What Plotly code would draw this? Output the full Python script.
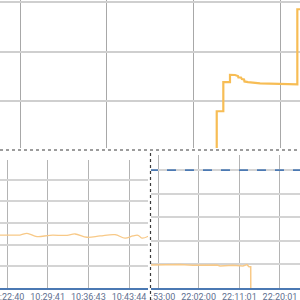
import plotly.graph_objects as go

# ---------------- data ----------------
# top panel (numeric x, step-like series)
top_x = [2.270, 2.270, 2.346, 2.346, 2.423, 2.423, 2.481, 2.515, 2.520, 2.550, 2.560, 2.585, 2.590, 2.631, 2.770, 3.000, 3.200, 3.200, 3.300]
top_y = [-2.0, 8.0, 8.0, 13.86, 13.86, 15.34, 15.30, 15.10, 14.80, 14.80, 14.50, 14.40, 14.00, 13.86, 13.60, 13.54, 13.40, 28.54, 28.54]

# bottom-left panel
bl_t = ["10:21:20", "10:23:11", "10:24:55", "10:26:07", "10:27:51", "10:30:05", "10:33:02", "10:34:25",
        "10:36:29", "10:38:44", "10:41:19", "10:43:03", "10:44:25", "10:45:17", "10:45:59", "10:47:10"]
bl_v = [2.44, 2.44, 2.44, 2.52, 2.37, 2.43, 2.43, 2.49, 2.34, 2.40, 2.46, 2.30, 2.40, 2.43, 2.30, 2.40]
bl_ticks = ["10:22:40", "10:29:41", "10:36:43", "10:43:44"]

# bottom-right panel
br_t = ["21:51:20", "21:55:39", "21:57:52", "22:00:45", "22:03:51", "22:06:04", "22:06:44", "22:09:36",
        "22:11:49", "22:12:43", "22:13:09", "22:13:32", "22:13:33"]
br_v = [0.975, 0.975, 1.0, 0.96, 0.975, 0.975, 0.93, 0.96, 0.93, 0.99, 0.90, 0.90, 0.0]
br_limit_t = ["21:51:00", "22:25:00"]
br_limit_v = [5, 5]
br_ticks = ["21:53:00", "22:02:00", "22:11:01", "22:20:01"]
br_ticktext = ["\u2007\u2007:53:00", "22:02:00", "22:11:01", "22:20:01"]

DAY = "2024-01-01 "
def d(ts):
    return [DAY + t for t in ts]

ORANGE = "#f7bd55"
ORANGE_LIGHT = "#f8c987"
BLUE = "#4b79b3"
TICKFONT = dict(family="Roboto, sans-serif", size=9, color="#5f7090")

fig = go.Figure()
fig.add_trace(go.Scatter(x=top_x, y=top_y, mode="lines", line=dict(color=ORANGE, width=2.2),
                         xaxis="x", yaxis="y", showlegend=False, hoverinfo="skip"))
fig.add_trace(go.Scatter(x=d(bl_t), y=bl_v, mode="lines", line=dict(color=ORANGE_LIGHT, width=1.3, shape="spline"),
                         xaxis="x2", yaxis="y2", showlegend=False, hoverinfo="skip"))
fig.add_trace(go.Scatter(x=d(br_limit_t), y=br_limit_v, mode="lines", line=dict(color=BLUE, width=1.6, dash="dash"),
                         xaxis="x3", yaxis="y3", showlegend=False, hoverinfo="skip"))
fig.add_trace(go.Scatter(x=d(br_t), y=br_v, mode="lines", line=dict(color=ORANGE_LIGHT, width=1.5),
                         xaxis="x3", yaxis="y3", showlegend=False, hoverinfo="skip"))

GRIDV = "#b4b4b4"
GRIDH = "#d4d4d4"

fig.update_layout(
    width=300, height=300,
    margin=dict(l=0, r=0, t=0, b=0),
    paper_bgcolor="white", plot_bgcolor="white",
    showlegend=False,
    xaxis=dict(domain=[0, 1], anchor="y", range=[-0.2308, 3.2308], tick0=0, dtick=1,
               showticklabels=False, showgrid=True, gridcolor="#a8a8a8", gridwidth=1,
               zeroline=False, showline=False, ticks=""),
    yaxis=dict(domain=[1 - 148 / 300, 1], anchor="x", range=[0.6, 30.4], tick0=0, dtick=10,
               showticklabels=False, showgrid=True, gridcolor="#cfcfcf", gridwidth=2,
               zeroline=False, showline=False, ticks=""),
    xaxis2=dict(domain=[0, 148 / 300], anchor="y2", type="date",
                range=[DAY + "10:21:27.5", DAY + "10:47:00.8"],
                tickmode="array", tickvals=d(bl_ticks), tickformat="%H:%M:%S",
                tickfont=TICKFONT, tickangle=0, showgrid=True, gridcolor=GRIDV, gridwidth=1,
                showline=True, linecolor=BLUE, linewidth=2, zeroline=False, ticks="",
                ticklabelstandoff=-1, ticklabeloverflow="allow", automargin=False),
    yaxis2=dict(domain=[12 / 300, 140 / 300], anchor="x2", range=[0, 5.9], dtick=1,
                showticklabels=False, showgrid=True, gridcolor=GRIDH, gridwidth=1.5,
                zeroline=False, showline=False, ticks=""),
    xaxis3=dict(domain=[151 / 300, 1], anchor="y3", type="date",
                range=[DAY + "21:51:27", DAY + "22:24:27"],
                tickmode="array", tickvals=d(br_ticks), ticktext=br_ticktext,
                tickfont=TICKFONT, tickangle=0, showgrid=True, gridcolor=GRIDV, gridwidth=1,
                showline=True, linecolor=BLUE, linewidth=2, zeroline=False, ticks="",
                ticklabelstandoff=-1, ticklabeloverflow="allow", automargin=False),
    yaxis3=dict(domain=[12 / 300, 145 / 300], anchor="x3", range=[0, 5.64], dtick=1,
                showticklabels=False, showgrid=True, gridcolor=GRIDH, gridwidth=1.5,
                zeroline=False, showline=False, ticks=""),
    shapes=[
        dict(type="line", xref="paper", yref="paper", x0=0, x1=1, y0=150 / 300, y1=150 / 300,
             line=dict(color="#3a3a3a", width=1.2, dash="dot"), layer="above"),
        dict(type="line", xref="paper", yref="paper", x0=150.5 / 300, x1=150.5 / 300, y0=0, y1=150 / 300,
             line=dict(color="#3a3a3a", width=1.2, dash="dot"), layer="above"),
    ],
)

fig.write_html("out.html")
